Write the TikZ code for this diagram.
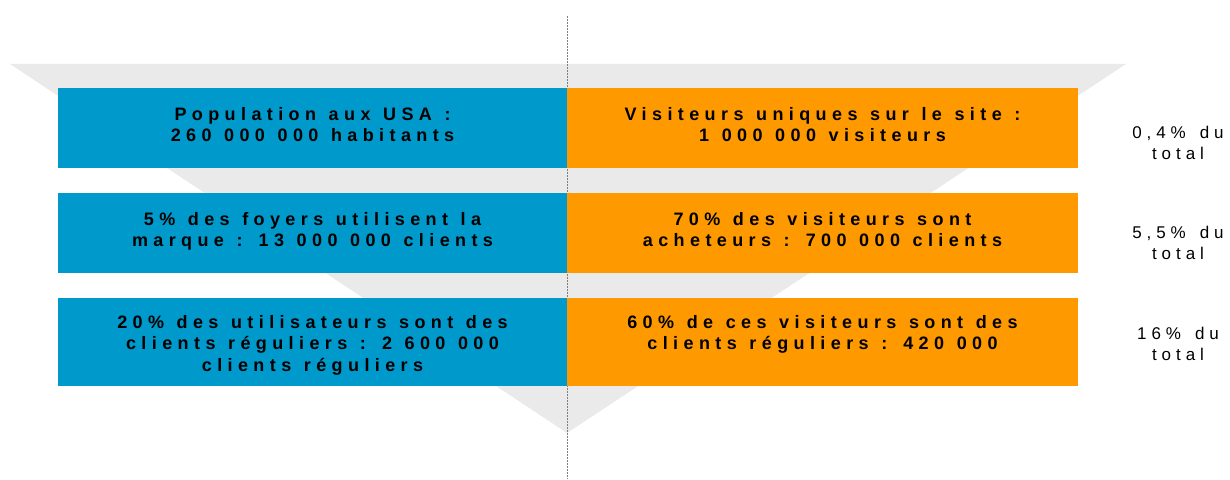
\documentclass[tikz,border=0pt]{standalone}
\usepackage{fontspec}
\setmainfont{Liberation Sans}
\newfontfamily\barfont{Liberation Sans}[LetterSpace=30]
\newfontfamily\notefont{Liberation Sans}[LetterSpace=29]
\newcommand\barwords{\spaceskip=12.6pt\relax}
\newcommand\notewords{\spaceskip=14pt\relax}
\usetikzlibrary{positioning}
\definecolor{funnelgrey}{HTML}{EAEAEA}
\definecolor{barblue}{HTML}{0099CC}
\definecolor{barorange}{HTML}{FF9900}
\definecolor{axisgrey}{HTML}{7F7F7F}
\tikzset{
  bar/.style={inner sep=0pt, outer sep=0pt, minimum height=80pt},
  leftbar/.style={bar, fill=barblue, minimum width=509pt},
  rightbar/.style={bar, fill=barorange, minimum width=511pt},
  bartext/.style={font=\fontsize{18}{21.7}\barfont\bfseries, execute at begin node=\barwords, align=center, inner sep=0pt},
  note/.style={font=\fontsize{17}{21.5}\notefont, execute at begin node=\notewords, align=center, inner sep=0pt, anchor=north},
}
\begin{document}
\begin{tikzpicture}[x=1pt, y=1pt]
      \useasboundingbox (0,0) rectangle (1230,479);
      \fill[funnelgrey] (10,415) -- (1126,415) -- (567,46) -- cycle; % funnel
      \coordinate (top) at (567,463);
      \coordinate (bot) at (567,0);
      \draw[axisgrey, line width=1pt, dash pattern=on 2pt off 1pt] (top) -- (bot);

      \node[leftbar] (l1) at (312.5,351) {}; % top
      \node[rightbar] (r1) at (822.5,351) {};
      \node[leftbar] (l2) at (312.5,246) {}; % middle
      \node[rightbar] (r2) at (822.5,246) {};
      \node[leftbar, minimum height=88pt] (l3) at (312.5,137) {}; % bottom
      \node[rightbar, minimum height=88pt] (r3) at (822.5,137) {};

      \node[bartext, below=19pt of l1.north] (l1t) {Population aux USA :\\260 000 000 habitants};
      \node[bartext, below=19pt of r1.north] (r1t) {Visiteurs uniques sur le site :\\1 000 000 visiteurs};
      \node[bartext, below=19pt of l2.north] (l2t) {5\% des foyers utilisent la\\marque : 13 000 000 clients};
      \node[bartext, below=19pt of r2.north] (r2t) {70\% des visiteurs sont\\acheteurs : 700 000 clients};
      \node[bartext, below=17pt of l3.north] (l3t) {20\% des utilisateurs sont des\\clients réguliers : 2 600 000\\clients réguliers};
      \node[bartext, below=17pt of r3.north] (r3t) {60\% de ces visiteurs sont des\\clients réguliers : 420 000};

      \node[note] (n1) at (1178,353.5) {0,4\% du\\total};
      \node[note] (n2) at (1178,253.5) {5,5\% du\\total};
      \node[note] (n3) at (1178,152.5) {16\% du\\total};
    \end{tikzpicture}
\end{document}
